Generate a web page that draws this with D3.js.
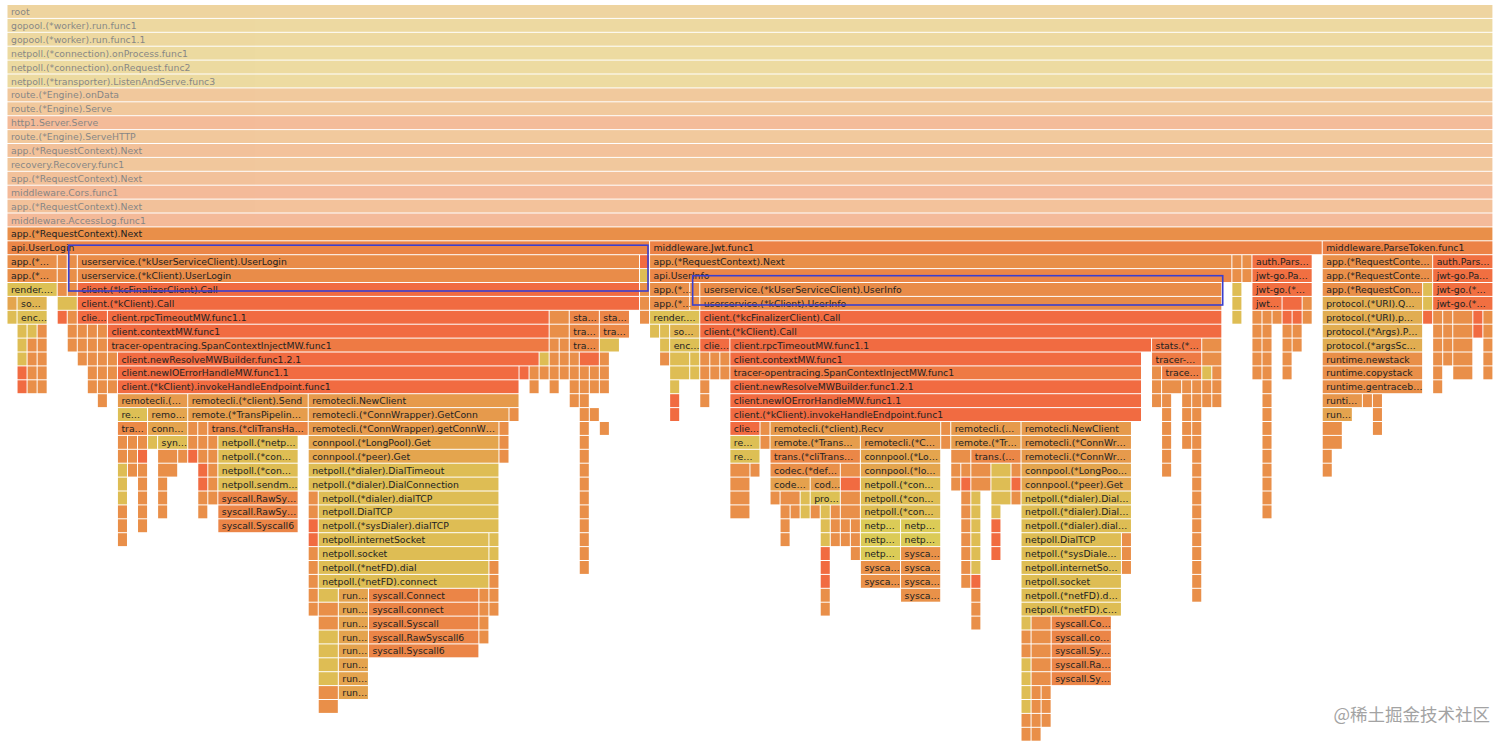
<!DOCTYPE html>
<html>
<head>
<meta charset="utf-8">
<script src="https://cdn.jsdelivr.net/npm/d3@7"></script>
<style>
html,body{margin:0;padding:0;background:#fff;}
svg{display:block;}
</style>
</head>
<body>
<svg id="chart" width="1512" height="747"></svg>
<script>
// ---------------- DATA ----------------
const totalSamples = 148;
// package guesses for frames too narrow to carry a readable label
const Y = "netpoll", LO = "connpool", O = "runtime", RO = "client";

// ancestors of the focused frame (each spans all samples)
const callerStack = [
  "root",
  "gopool.(*worker).run.func1",
  "gopool.(*worker).run.func1.1",
  "netpoll.(*connection).onProcess.func1",
  "netpoll.(*connection).onRequest.func2",
  "netpoll.(*transporter).ListenAndServe.func3",
  "route.(*Engine).onData",
  "route.(*Engine).Serve",
  "http1.Server.Serve",
  "route.(*Engine).ServeHTTP",
  "app.(*RequestContext).Next",
  "recovery.Recovery.func1",
  "app.(*RequestContext).Next",
  "middleware.Cors.func1",
  "app.(*RequestContext).Next",
  "middleware.AccessLog.func1",
  "app.(*RequestContext).Next"
];
const focusDepth = 16;

// [depth, first sample, samples, function]
const loginFrames = [
  [17,0,64,"api.UserLogin"],
  [18,0,5,"app.(*…"],[18,5,1,O],[18,6,1,O],[18,7,56,"userservice.(*kUserServiceClient).UserLogin"],[18,63,1,RO],
  [19,0,5,"app.(*…"],[19,5,1,O],[19,6,1,O],[19,7,56,"userservice.(*kClient).UserLogin"],[19,63,1,Y],
  [20,0,5,"render.…"],[20,5,1,O],[20,6,1,O],[20,7,56,"client.(*kcFinalizerClient).Call"],[20,63,1,O],
  [21,0,1,LO],[21,1,3,"so…"],[21,5,2,Y],[21,7,56,"client.(*kClient).Call"],[21,63,1,O],
  [22,0,1,Y],[22,1,3,"enc…"],[22,5,1,RO],[22,6,1,O],[22,7,3,"clie…"],[22,10,44,"client.rpcTimeoutMW.func1.1"],[22,54,2,O],[22,56,3,"sta…"],[22,59,3,"sta…"],[22,63,1,O],
  [23,1,1,Y],[23,2,1,Y],[23,3,1,O],[23,6,1,O],[23,7,1,O],[23,8,1,O],[23,9,1,O],[23,10,44,"client.contextMW.func1"],[23,54,2,O],[23,56,3,"tra…"],[23,59,3,"tra…"],
  [24,1,1,Y],[24,2,1,O],[24,3,1,O],[24,6,1,O],[24,7,1,O],[24,8,1,O],[24,9,1,O],[24,10,44,"tracer-opentracing.SpanContextInjectMW.func1"],[24,54,1,O],[24,55,1,O],[24,56,3,"tra…"],[24,59,2,Y],
  [25,1,1,Y],[25,2,1,O],[25,3,1,O],[25,7,1,O],[25,8,1,O],[25,9,1,O],[25,10,1,O],[25,11,42,"client.newResolveMWBuilder.func1.2.1"],[25,53,1,Y],[25,54,1,O],[25,55,1,O],[25,56,1,O],[25,57,2,RO],[25,59,1,O],
  [26,1,1,RO],[26,2,1,O],[26,3,1,O],[26,8,1,O],[26,9,1,O],[26,10,1,O],[26,11,40,"client.newIOErrorHandleMW.func1.1"],[26,51,1,RO],[26,52,1,O],[26,53,1,O],[26,54,1,O],[26,55,1,O],[26,56,1,O],[26,57,1,O],[26,58,1,O],[26,59,1,O],
  [27,1,1,RO],[27,2,1,O],[27,3,1,O],[27,8,1,O],[27,9,1,O],[27,10,1,O],[27,11,40,"client.(*kClient).invokeHandleEndpoint.func1"],[27,52,1,O],[27,54,1,O],[27,56,1,O],[27,57,1,O],[27,58,1,O],[27,59,1,O],
  [28,9,1,O],[28,11,7,"remotecli.(…"],[28,18,12,"remotecli.(*client).Send"],[28,30,21,"remotecli.NewClient"],[28,56,1,O],[28,57,1,O],
  [29,11,3,"re…"],[29,14,4,"remo…"],[29,18,12,"remote.(*TransPipelin…"],[29,30,20,"remotecli.(*ConnWrapper).GetConn"],[29,50,1,O],[29,57,1,O],[29,58,1,O],
  [30,11,3,"tra…"],[30,14,4,"conn…"],[30,18,1,O],[30,19,1,O],[30,20,10,"trans.(*cliTransHa…"],[30,30,19,"remotecli.(*ConnWrapper).getConnW…"],[30,49,1,O],[30,57,1,O],[30,59,1,O],
  [31,11,1,O],[31,12,1,O],[31,13,1,O],[31,14,1,Y],[31,15,3,"syn…"],[31,18,1,O],[31,19,1,O],[31,20,1,O],[31,21,8,"netpoll.(*netp…"],[31,30,19,"connpool.(*LongPool).Get"],[31,49,1,O],[31,57,1,O],
  [32,11,1,O],[32,12,1,O],[32,13,1,RO],[32,15,2,O],[32,17,1,O],[32,18,1,RO],[32,19,1,O],[32,20,1,O],[32,21,8,"netpoll.(*con…"],[32,30,19,"connpool.(*peer).Get"],[32,49,1,O],[32,57,1,O],
  [33,11,1,Y],[33,12,1,O],[33,13,1,O],[33,15,2,O],[33,19,1,RO],[33,20,1,O],[33,21,8,"netpoll.(*con…"],[33,30,19,"netpoll.(*dialer).DialTimeout"],[33,57,1,O],
  [34,11,1,Y],[34,13,1,O],[34,15,1,O],[34,19,1,RO],[34,20,1,O],[34,21,8,"netpoll.sendm…"],[34,30,19,"netpoll.(*dialer).DialConnection"],[34,57,1,O],
  [35,11,1,Y],[35,13,1,O],[35,15,1,O],[35,19,1,O],[35,20,1,O],[35,21,8,"syscall.RawSy…"],[35,30,1,O],[35,31,18,"netpoll.(*dialer).dialTCP"],[35,57,1,O],
  [36,11,1,O],[36,13,1,O],[36,15,1,O],[36,19,1,O],[36,21,8,"syscall.RawSy…"],[36,30,1,O],[36,31,18,"netpoll.DialTCP"],[36,57,1,O],
  [37,11,1,O],[37,13,1,O],[37,21,8,"syscall.Syscall6"],[37,30,1,RO],[37,31,18,"netpoll.(*sysDialer).dialTCP"],[37,57,1,O],
  [38,11,1,O],[38,30,1,RO],[38,31,17,"netpoll.internetSocket"],[38,48,1,Y],[38,57,1,O],
  [39,30,1,O],[39,31,17,"netpoll.socket"],[39,48,1,Y],[39,57,1,O],
  [40,30,1,O],[40,31,17,"netpoll.(*netFD).dial"],[40,48,1,O],[40,57,1,O],
  [41,30,1,O],[41,31,17,"netpoll.(*netFD).connect"],[41,48,1,O],
  [42,30,1,O],[42,31,2,Y],[42,33,3,"run…"],[42,36,11,"syscall.Connect"],[42,47,1,O],[42,48,1,O],
  [43,30,1,O],[43,31,2,O],[43,33,3,"run…"],[43,36,11,"syscall.connect"],[43,47,1,O],[43,48,1,O],
  [44,31,2,O],[44,33,3,"run…"],[44,36,11,"syscall.Syscall"],[44,47,1,O],
  [45,31,2,Y],[45,33,3,"run…"],[45,36,11,"syscall.RawSyscall6"],[45,47,1,O],
  [46,31,2,Y],[46,33,3,"run…"],[46,36,11,"syscall.Syscall6"],
  [47,31,2,Y],[47,33,3,"run…"],
  [48,31,2,Y],[48,33,3,"run…"],
  [49,31,2,O],[49,33,3,"run…"],
  [50,31,2,O]
];

const jwtFrames = [
  [17,64,67,"middleware.Jwt.func1"],
  [18,64,58,"app.(*RequestContext).Next"],[18,122,1,O],[18,123,1,O],[18,124,6,"auth.Pars…"],
  [19,64,58,"api.UserInfo"],[19,122,1,O],[19,123,1,O],[19,124,6,"jwt-go.Pa…"],
  [20,64,4,"app.(*…"],[20,68,1,O],[20,69,52,"userservice.(*kUserServiceClient).UserInfo"],[20,122,1,Y],[20,124,6,"jwt-go.(*…"],
  [21,64,4,"app.(*…"],[21,68,1,O],[21,69,52,"userservice.(*kClient).UserInfo"],[21,122,1,Y],[21,124,3,"jwt…"],[21,127,2,RO],[21,129,1,O],
  [22,64,5,"render.…"],[22,69,52,"client.(*kcFinalizerClient).Call"],[22,122,1,Y],[22,124,1,O],[22,125,1,O],[22,126,1,O],[22,127,1,RO],[22,128,1,RO],[22,129,1,O],
  [23,64,1,Y],[23,65,1,Y],[23,66,3,"so…"],[23,69,52,"client.(*kClient).Call"],[23,124,1,O],[23,125,1,O],[23,127,1,O],[23,128,1,O],
  [24,65,1,Y],[24,66,3,"enc…"],[24,69,3,"clie…"],[24,72,42,"client.rpcTimeoutMW.func1.1"],[24,114,5,"stats.(*…"],[24,119,2,O],[24,124,1,O],[24,125,1,O],[24,127,1,O],[24,128,1,O],
  [25,65,1,O],[25,66,2,Y],[25,68,1,Y],[25,69,1,O],[25,70,1,O],[25,71,1,O],[25,72,41,"client.contextMW.func1"],[25,114,5,"tracer-…"],[25,119,2,O],[25,124,1,O],[25,125,1,O],[25,127,1,O],
  [26,66,2,Y],[26,68,1,Y],[26,69,1,O],[26,70,1,O],[26,71,1,O],[26,72,41,"tracer-opentracing.SpanContextInjectMW.func1"],[26,114,1,O],[26,115,4,"trace…"],[26,119,1,Y],[26,120,1,O],[26,124,1,O],[26,125,1,O],[26,127,1,O],
  [27,66,1,Y],[27,69,1,O],[27,72,41,"client.newResolveMWBuilder.func1.2.1"],[27,114,1,O],[27,115,2,O],[27,117,1,O],[27,118,1,O],[27,119,1,O],[27,120,1,O],[27,125,1,O],
  [28,66,1,RO],[28,69,1,O],[28,72,41,"client.newIOErrorHandleMW.func1.1"],[28,114,1,O],[28,115,1,O],[28,117,1,O],[28,118,1,O],[28,119,1,O],[28,120,1,O],[28,125,1,O],
  [29,66,1,RO],[29,72,41,"client.(*kClient).invokeHandleEndpoint.func1"],[29,115,1,O],[29,117,1,O],[29,118,1,O],[29,125,1,O],
  [30,72,3,"clie…"],[30,75,1,O],[30,76,17,"remotecli.(*client).Recv"],[30,93,1,O],[30,94,7,"remotecli.(…"],[30,101,11,"remotecli.NewClient"],[30,115,1,O],[30,117,1,O],[30,118,1,O],[30,125,1,O],
  [31,72,3,"re…"],[31,75,1,O],[31,76,9,"remote.(*Trans…"],[31,85,8,"remotecli.(*C…"],[31,93,1,O],[31,94,7,"remote.(*Tr…"],[31,101,11,"remotecli.(*ConnWr…"],[31,115,1,O],[31,117,1,O],[31,118,1,O],[31,125,1,O],
  [32,72,3,"re…"],[32,76,9,"trans.(*cliTrans…"],[32,85,8,"connpool.(*Lo…"],[32,94,2,O],[32,96,5,"trans.(…"],[32,101,11,"remotecli.(*ConnWr…"],[32,115,1,O],[32,118,1,O],[32,125,1,O],
  [33,72,2,O],[33,74,1,O],[33,76,7,"codec.(*def…"],[33,83,2,O],[33,85,8,"connpool.(*lo…"],[33,94,1,O],[33,95,1,O],[33,96,2,O],[33,98,2,Y],[33,100,1,O],[33,101,11,"connpool.(*LongPoo…"],[33,115,1,O],[33,118,1,O],[33,125,1,O],
  [34,72,2,O],[34,76,4,"code…"],[34,80,3,"cod…"],[34,83,2,RO],[34,85,8,"netpoll.(*con…"],[34,94,1,O],[34,95,1,RO],[34,96,2,O],[34,98,2,Y],[34,100,1,RO],[34,101,11,"connpool.(*peer).Get"],[34,118,1,O],[34,125,1,O],
  [35,72,2,O],[35,76,1,O],[35,77,2,O],[35,79,1,Y],[35,80,3,"pro…"],[35,83,2,O],[35,85,8,"netpoll.(*con…"],[35,95,1,O],[35,96,1,Y],[35,98,2,Y],[35,100,1,O],[35,101,11,"netpoll.(*dialer).Dial…"],[35,118,1,O],[35,125,1,O],
  [36,72,2,O],[36,77,1,O],[36,78,1,O],[36,79,1,Y],[36,80,1,O],[36,81,1,Y],[36,82,1,O],[36,83,2,O],[36,85,8,"netpoll.(*con…"],[36,95,1,O],[36,96,1,Y],[36,98,1,Y],[36,101,11,"netpoll.(*dialer).Dial…"],[36,118,1,O],[36,125,1,O],
  [37,77,1,O],[37,81,1,Y],[37,82,1,O],[37,83,1,O],[37,84,1,O],[37,85,4,"netp…"],[37,89,4,"netp…"],[37,95,1,O],[37,96,1,Y],[37,98,1,RO],[37,101,11,"netpoll.(*dialer).dial…"],[37,118,1,O],
  [38,77,1,O],[38,81,1,Y],[38,82,1,O],[38,83,1,O],[38,84,1,O],[38,85,4,"netp…"],[38,89,4,"netp…"],[38,95,1,O],[38,96,1,Y],[38,98,1,RO],[38,101,10,"netpoll.DialTCP"],[38,111,1,O],[38,118,1,O],
  [39,81,1,RO],[39,84,1,O],[39,85,4,"netp…"],[39,89,4,"sysca…"],[39,95,1,O],[39,96,1,Y],[39,98,1,RO],[39,101,10,"netpoll.(*sysDiale…"],[39,111,1,O],[39,118,1,O],
  [40,81,1,RO],[40,85,4,"sysca…"],[40,89,4,"sysca…"],[40,95,1,O],[40,96,1,Y],[40,101,10,"netpoll.internetSo…"],[40,111,1,O],[40,118,1,O],
  [41,81,1,RO],[41,85,4,"sysca…"],[41,89,4,"sysca…"],[41,95,1,O],[41,96,1,RO],[41,101,10,"netpoll.socket"],[41,118,1,O],
  [42,81,1,O],[42,89,4,"sysca…"],[42,96,1,O],[42,101,10,"netpoll.(*netFD).d…"],[42,118,1,O],
  [43,81,1,O],[43,96,1,O],[43,101,10,"netpoll.(*netFD).c…"],
  [44,96,1,O],[44,101,1,Y],[44,102,2,O],[44,104,6,"syscall.Co…"],
  [45,101,1,O],[45,102,2,O],[45,104,6,"syscall.co…"],
  [46,101,1,O],[46,102,2,O],[46,104,6,"syscall.Sy…"],
  [47,101,1,Y],[47,102,2,O],[47,104,6,"syscall.Ra…"],
  [48,101,1,Y],[48,102,2,O],[48,104,6,"syscall.Sy…"],
  [49,101,1,Y],[49,102,1,O],[49,103,1,O],
  [50,101,1,Y],[50,102,1,O],[50,103,1,O],
  [51,101,1,O],[51,102,1,O],[51,103,1,O],
  [52,101,1,O],[52,102,1,O]
];

const tokenFrames = [
  [17,131,17,"middleware.ParseToken.func1"],
  [18,131,11,"app.(*RequestConte…"],[18,142,6,"auth.Pars…"],
  [19,131,11,"app.(*RequestConte…"],[19,142,6,"jwt-go.Pa…"],
  [20,131,10,"app.(*RequestCon…"],[20,141,1,Y],[20,142,6,"jwt-go.(*…"],
  [21,131,10,"protocol.(*URI).Q…"],[21,141,1,Y],[21,142,6,"jwt-go.(*…"],
  [22,131,10,"protocol.(*URI).p…"],[22,141,1,RO],[22,142,1,O],[22,143,1,O],[22,144,2,O],[22,146,1,RO],[22,147,1,O],
  [23,131,10,"protocol.(*Args).P…"],[23,142,1,O],[23,143,1,O],[23,144,2,O],[23,146,1,RO],[23,147,1,O],
  [24,131,10,"protocol.(*argsSc…"],[24,142,1,O],[24,143,1,O],[24,144,2,O],[24,147,1,O],
  [25,131,10,"runtime.newstack"],[25,142,1,O],[25,143,1,O],[25,144,2,O],[25,147,1,O],
  [26,131,10,"runtime.copystack"],[26,142,1,O],[26,144,2,O],[26,147,1,O],
  [27,131,10,"runtime.gentraceb…"],[27,142,1,O],
  [28,131,4,"runti…"],[28,135,1,O],[28,136,1,O],
  [29,131,3,"run…"],[29,136,1,O],
  [30,131,2,O],[30,136,1,O],
  [31,131,2,O],
  [32,131,1,O],
  [33,131,1,O]
];

const highlightFrames = [
  "userservice.(*kUserServiceClient).UserLogin",
  "userservice.(*kUserServiceClient).UserInfo"
];
const watermarkText = "@稀土掘金技术社区";

// ---------------- DRAWING ----------------
const ROW_H = 13.9;
const svg = d3.select("#chart");

const frames = [].concat(
  callerStack.map((name, i) => ({depth: i, start: 0, value: totalSamples, name})),
  [...loginFrames, ...jwtFrames, ...tokenFrames].map(([depth, start, value, name]) => ({depth, start, value, name}))
);
const maxDepth = d3.max(frames, d => d.depth);

const x = d3.scaleLinear().domain([0, totalSamples]).range([7.5, 1493.4]);
const y = d3.scaleLinear().domain([0, maxDepth + 1]).range([5, 5 + (maxDepth + 1) * ROW_H]);

// d3-flame-graph style warm colour hash
function generateHash(name) {
  const MAX_CHAR = 6, mod = 10;
  let hash = 0, maxHash = 0, weight = 1;
  for (let i = 0; i < name.length; i++) {
    if (i > MAX_CHAR) break;
    hash += weight * (name.charCodeAt(i) % mod);
    maxHash += weight * (mod - 1);
    weight *= 0.7;
  }
  return maxHash > 0 ? hash / maxHash : 0;
}
function colorHash(name) {
  const v = generateHash(name.split("(")[0]);
  return d3.rgb(200 + Math.round(55 * v), Math.round(230 * (1 - v)), Math.round(55 * (1 - v))).toString();
}
const isLabelled = d => ![Y, LO, O, RO].includes(d.name);

const g = svg.append("g")
  .attr("font-family", "'DejaVu Sans', Verdana, sans-serif")
  .attr("font-size", "9.3px");

const node = g.selectAll("g.frame")
  .data(frames)
  .join("g")
  .attr("class", "frame")
  .attr("transform", d => `translate(${x(d.start)},${y(d.depth)})`)
  .attr("opacity", d => d.depth < focusDepth ? 0.55 : 1);

node.append("rect")
  .attr("width", d => Math.max(0.5, x(d.start + d.value) - x(d.start) - 1))
  .attr("height", ROW_H - 1)
  .attr("fill", d => colorHash(d.name))
  .attr("fill-opacity", 0.8);

node.filter(d => isLabelled(d) && (x(d.start + d.value) - x(d.start)) >= 25)
  .append("text")
  .attr("x", 3.5)
  .attr("y", 10)
  .attr("fill", "#222")
  .each(function(d) {
    const t = d3.select(this);
    const avail = x(d.start + d.value) - x(d.start) - 1.5;
    t.text(d.name);
    if (this.getComputedTextLength() <= avail) return;
    let base = d.name.endsWith("…") ? d.name.slice(0, -1) : d.name;
    while (base.length > 1) {
      base = base.slice(0, -1);
      t.text(base + "…");
      if (this.getComputedTextLength() <= avail) break;
    }
  });

// hand-drawn style highlight boxes around the two RPC client calls
const boxStyle = [
  {padL: 9, padR: 8, padT: 10, rows: 2, padB: 8},
  {padL: 7.6, padR: 0.4, padT: 7.3, rows: 2, padB: -5.8}
];
highlightFrames.forEach((name, i) => {
  const f = frames.find(d => d.name === name);
  const s = boxStyle[i];
  const x0 = x(f.start) - s.padL, x1 = x(f.start + f.value) + s.padR;
  const y0 = y(f.depth) - s.padT, y1 = y(f.depth + s.rows) + s.padB;
  svg.append("rect")
    .attr("x", x0).attr("y", y0)
    .attr("width", x1 - x0).attr("height", y1 - y0)
    .attr("fill", "none")
    .attr("stroke", "#3a3fcf")
    .attr("stroke-width", 1.6);
});

// watermark
svg.append("text")
  .attr("x", 1490)
  .attr("y", 721)
  .attr("text-anchor", "end")
  .attr("font-family", "'Noto Sans CJK SC', sans-serif")
  .attr("font-size", "17.5px")
  .attr("fill", "#a3a3a3")
  .text(watermarkText);
</script>
</body>
</html>
